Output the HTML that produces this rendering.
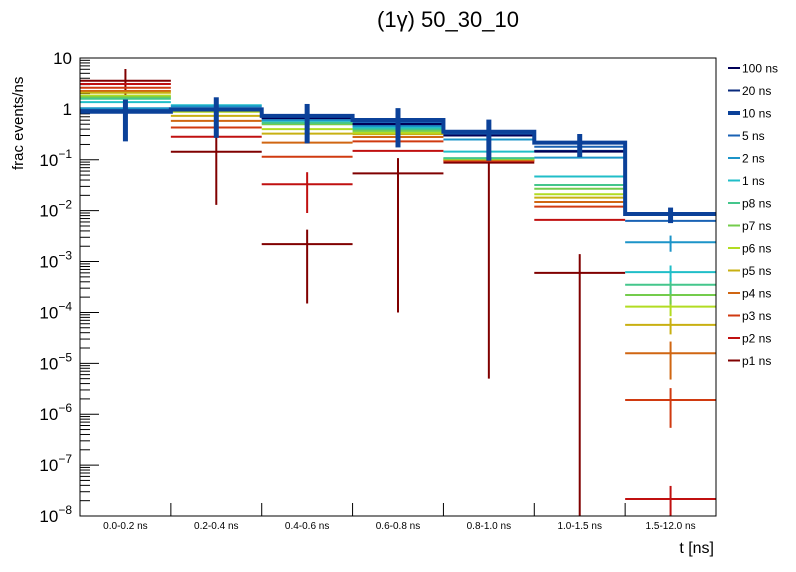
<!DOCTYPE html>
<html><head><meta charset="utf-8"><style>
body{margin:0;background:#fff}
svg{display:block;font-family:"Liberation Sans",sans-serif}
</style></head><body>
<svg id="chart" width="796" height="572" viewBox="0 0 796 572">
<text x="448" y="27" font-size="22" text-anchor="middle">(1γ) 50_30_10</text>
<text transform="translate(23,170) rotate(-90)" font-size="15">frac events/ns</text>
<text x="714" y="553" font-size="16" text-anchor="end">t [ns]</text>
<g id="axes"></g><g id="marks"></g><g id="legend"></g>
<rect x="80" y="58" width="636" height="458" fill="none" stroke="#000" stroke-width="1"/>
</svg>
<script>
const categories=["0.0-0.2 ns","0.2-0.4 ns","0.4-0.6 ns","0.6-0.8 ns","0.8-1.0 ns","1.0-1.5 ns","1.5-12.0 ns"];
const seriesNames=["100 ns","20 ns","10 ns","5 ns","2 ns","1 ns","p8 ns","p7 ns","p6 ns","p5 ns","p4 ns","p3 ns","p2 ns","p1 ns"];
const s100=[0.92,0.93,0.66,0.505,0.30,0.145,0.0085];
const s20=[0.92,0.93,0.66,0.50,0.30,0.15,0.0085];
const s10=[0.88,0.98,0.73,0.605,0.356,0.217,0.0086];
const s5=[0.95,0.99,0.68,0.55,0.32,0.18,0.0063];
const s2=[1.03,1.12,0.60,0.46,0.25,0.11,0.0024];
const s1=[1.36,1.18,0.58,0.43,0.145,0.047,0.00062];
const sp8=[1.58,0.97,0.53,0.40,0.108,0.032,0.00035];
const sp7=[1.69,0.95,0.50,0.37,0.106,0.027,0.00022];
const sp6=[1.82,0.88,0.40,0.34,0.104,0.021,0.00013];
const sp5=[2.08,0.73,0.326,0.32,0.102,0.018,0.000057];
const sp4=[2.25,0.58,0.217,0.28,0.100,0.0148,0.0000158];
const sp3=[2.6,0.43,0.115,0.23,0.097,0.012,0.0000019];
const sp2=[3.08,0.284,0.033,0.15,0.095,0.0066,0.0000000216];
const sp1=[3.58,0.144,0.0022,0.054,0.088,0.0006,0];
const e10=[0.65,0.71,0.52,0.43,0.26,0.104,0.0029];
const ep1=[2.5,0.131,0.00205,0.0539,0.087995,0.0008,0];
const ep2=[0,0,0.024,0,0,0,0.0000000174];
const ep3=[0,0,0,0,0,0,0.00000136];
const ep4=[0,0,0,0,0,0,0.000011];
const yTickExp=[1,0,-1,-2,-3,-4,-5,-6,-7,-8];
const series=[s100,s20,s10,s5,s2,s1,sp8,sp7,sp6,sp5,sp4,sp3,sp2,sp1];
const errors=[null,null,e10,null,null,null,null,null,null,null,ep4,ep3,ep2,ep1];
const colors=["#000058","#082a7c","#0b4199","#1a62b4","#1c94c8","#20bec8","#44c68c","#74cc4c","#b2dc22","#c8b012","#d06612","#d03a10","#c01010","#800000"];
const X0=80,X1=716,YT=58,YB=516,LMAX=1,LMIN=-8;
const xs=i=>X0+(X1-X0)*i/categories.length;
const ys=v=>YT+(LMAX-Math.log10(v))*(YB-YT)/(LMAX-LMIN);
const NS="http://www.w3.org/2000/svg";
function mk(tag,attrs,parent){const e=document.createElementNS(NS,tag);for(const k in attrs)e.setAttribute(k,attrs[k]);parent.appendChild(e);return e;}
const axes=document.getElementById('axes'),marks=document.getElementById('marks'),legend=document.getElementById('legend');
for(let p=LMIN;p<LMAX;p++){for(let m=2;m<=9;m++){const y=ys(m*Math.pow(10,p));
const t=mk('line',{x1:X0,x2:X0+10,y1:y,y2:y,stroke:'#000'},axes);

}}
yTickExp.forEach(p=>{const y=ys(Math.pow(10,p));
const t=mk('line',{x1:X0,x2:X0+19,y1:y,y2:y,stroke:'#000'},axes);


const tx=mk('text',{x:X0-8,y:y+6,'font-size':17,'text-anchor':'end'},axes);


if(p===1)tx.textContent='10';else if(p===0)tx.textContent='1';else{tx.textContent='10';const s=mk('tspan',{dy:-8,'font-size':12},tx);s.textContent=String(p).replace('-','−');}
});
for(let i=1;i<categories.length;i++){const t=mk('line',{x1:xs(i),x2:xs(i),y1:YB,y2:YB-13,stroke:'#000'},axes);

}
categories.forEach((c,i)=>{const tx=mk('text',{x:(xs(i)+xs(i+1))/2,y:529,'font-size':10,'text-anchor':'middle'},axes);


tx.textContent=c;});
const order=[13,12,11,10,9,8,7,6,5,4,3,1,0,2];
order.forEach(k=>{const d=series[k],col=colors[k],w=(k===2?4:2),g=mk('g',{},marks);


if(k===2){let pts=[];d.forEach((v,i)=>{pts.push(xs(i)+','+ys(v));pts.push(xs(i+1)+','+ys(v));});
const pl=mk('polyline',{points:pts.join(' '),fill:'none',stroke:col,'stroke-width':w},g);

}
d.forEach((v,i)=>{if(!(v>0))return;const y=ys(v);
if(k!==2){const l=mk('line',{x1:xs(i),x2:xs(i+1),y1:y,y2:y,stroke:col,'stroke-width':w},g);

}
let e=errors[k]?errors[k][i]:0;
if(!e&&k>=4&&k<=9)e=(i===6)?v*0.35:0;
if(e>0){const cx=(xs(i)+xs(i+1))/2;const lo=v-e>0?Math.min(ys(v-e),YB):YB;const hi=Math.max(ys(v+e),YT);
const b=mk('line',{x1:cx,x2:cx,y1:hi,y2:lo,stroke:col,'stroke-width':(k===2?5:2)},g);

}
});});
seriesNames.forEach((n,k)=>{const y=68+k*22.5,g=mk('g',{},legend);


mk('line',{x1:728,x2:740,y1:y,y2:y,stroke:colors[k],'stroke-width':(k===2?4:2)},g);
const t=mk('text',{x:742,y:y+4.5,'font-size':12},g);t.textContent=n;});
</script>
</body></html>
